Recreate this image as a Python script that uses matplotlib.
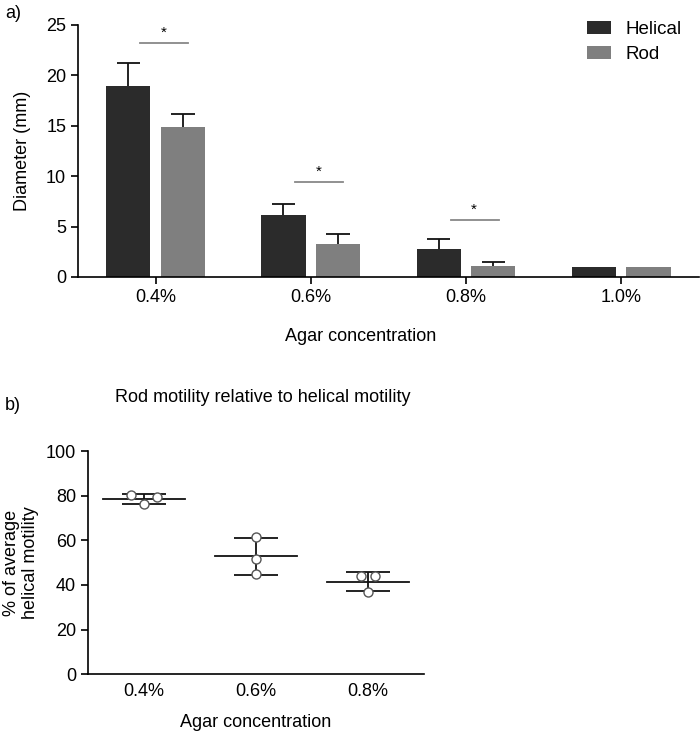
import numpy as np
import matplotlib
matplotlib.use("Agg")
import matplotlib.pyplot as plt

plt.rcParams['font.family'] = ['Liberation Sans', 'DejaVu Sans']

# panel a: swim diameters
concentrations = ["0.4%", "0.6%", "0.8%", "1.0%"]
helical_mean = [18.9, 6.15, 2.75, 1.0]
helical_err = [2.3, 1.1, 1.05, 0.0]
rod_mean = [14.85, 3.25, 1.12, 0.97]
rod_err = [1.35, 1.0, 0.37, 0.0]
sig_heights = [23.2, 9.4, 5.7]  # star bars for first three groups

# panel b: rod motility relative to helical
rel_labels = ["0.4%", "0.6%", "0.8%"]
rel_points = [
    [80.3, 76.3, 79.3],
    [61.6, 51.6, 45.1],
    [43.9, 43.9, 36.9],
]
rel_offsets = [[-0.12, 0.0, 0.12], [0.0, 0.0, 0.0], [-0.06, 0.06, 0.0]]
rel_mean = [78.6, 52.8, 41.5]
rel_sd = [2.3, 8.2, 4.3]

dark = "#2b2b2b"
grey = "#7f7f7f"
fs = 13

fig = plt.figure(figsize=(7.0, 7.37), dpi=100)

# ---- panel a ----
ax1 = fig.add_axes([0.1114, 0.6242, 0.887, 0.3419])
x = np.arange(len(concentrations))
w = 0.285
off = 0.176
ax1.bar(x - off, helical_mean, w, color=dark, label="Helical", zorder=2)
ax1.bar(x + off, rod_mean, w, color=grey, label="Rod", zorder=2)
cap = 0.075
for xs, m, e in [(x - off, helical_mean, helical_err), (x + off, rod_mean, rod_err)]:
    for xi, mi, ei in zip(xs, m, e):
        if ei > 0:
            ax1.vlines(xi, mi, mi + ei, color="#111111", lw=1.3, zorder=1)
            ax1.hlines(mi + ei, xi - cap, xi + cap, color="#111111", lw=1.3, zorder=1)
for i, h in enumerate(sig_heights):
    ax1.plot([x[i] - 0.1, x[i] + 0.21], [h, h], color="#888888", lw=1.3)
    ax1.text(x[i] + 0.05, h + 0.3, "*", ha="center", va="bottom", fontsize=11)

ax1.set_xlim(-0.5, 3.5)
ax1.set_ylim(0, 25)
ax1.set_yticks([0, 5, 10, 15, 20, 25])
ax1.set_xticks(x)
ax1.set_xticklabels(concentrations)
ax1.set_ylabel("Diameter (mm)", fontsize=fs, va="center")
ax1.yaxis.set_label_coords(-0.09, 0.5)
ax1.set_xlabel("Agar concentration", fontsize=fs, va="center")
ax1.xaxis.set_label_coords(0.455, -0.238)
for s in ["top", "right"]:
    ax1.spines[s].set_visible(False)
for s in ["left", "bottom"]:
    ax1.spines[s].set_linewidth(1.2)
ax1.tick_params(labelsize=fs, width=1.2, length=5, direction="out")
ax1.legend(loc="upper left", bbox_to_anchor=(587 / 700, 1 - 21 / 737), bbox_transform=fig.transFigure,
           frameon=False, fontsize=13.5, borderpad=0, borderaxespad=0,
           handlelength=1.28, handleheight=0.64, handletextpad=0.75, labelspacing=0.44)

# ---- panel b ----
ax2 = fig.add_axes([0.1257, 0.0851, 0.48, 0.3029])
xb = np.arange(len(rel_labels))
for i in range(len(rel_labels)):
    ax2.plot([xb[i] - 0.37, xb[i] + 0.37], [rel_mean[i], rel_mean[i]], color="#111111", lw=1.3, zorder=2)
    ax2.errorbar(xb[i], rel_mean[i], yerr=rel_sd[i], fmt="none", ecolor="#111111",
                 elinewidth=1.3, capsize=16, capthick=1.3, zorder=2)
    ax2.plot(xb[i] + np.array(rel_offsets[i]), rel_points[i], "o", mfc="white",
             mec="#555555", mew=1.0, ms=6.5, zorder=3)
ax2.set_xlim(-0.5, 2.5)
ax2.set_ylim(0, 100)
ax2.set_yticks([0, 20, 40, 60, 80, 100])
ax2.set_xticks(xb)
ax2.set_xticklabels(rel_labels)
ax2.tick_params(labelsize=fs, width=1.2, length=5)
ax2.tick_params(axis="x", length=0, pad=6)
for s in ["top", "right"]:
    ax2.spines[s].set_visible(False)
for s in ["left", "bottom"]:
    ax2.spines[s].set_linewidth(1.2)
ax2.set_ylabel("% of average\nhelical motility", fontsize=fs, linespacing=1.15, va="center")
ax2.yaxis.set_label_coords(-0.2, 0.5)
ax2.set_xlabel("Agar concentration", fontsize=fs, va="center")
ax2.xaxis.set_label_coords(0.5, -0.215)

fig.text(263 / 700, 1 - 398 / 737, "Rod motility relative to helical motility",
         ha="center", va="center", fontsize=fs)
fig.text(0.007, 1 - 14 / 737, "a)", fontsize=fs, va="center")
fig.text(0.007, 1 - 405 / 737, "b)", fontsize=fs, va="center")

fig.savefig("out.png", dpi=100)
